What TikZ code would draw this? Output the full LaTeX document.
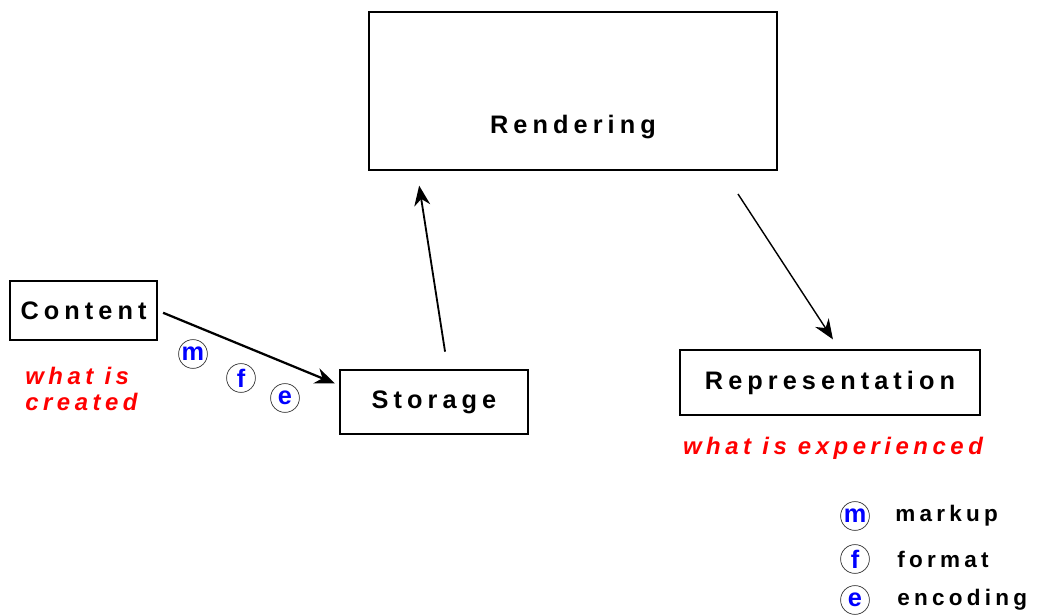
\documentclass[tikz,border=0pt]{standalone}
\usepackage{fontspec}
\setmainfont{Liberation Sans}
\newfontfamily\spacedfont[LetterSpace=20]{Liberation Sans}
\newfontfamily\notefont[LetterSpace=19]{Liberation Sans}
\usetikzlibrary{arrows.meta,positioning}
\definecolor{cink}{HTML}{000000}
\definecolor{cred}{HTML}{FF0000}
\definecolor{cblue}{HTML}{0000FF}
\definecolor{cring}{HTML}{333333}

\begin{document}
\begin{tikzpicture}[
  x=0.025cm, y=-0.025cm,
  box/.style={
    draw=cink,
    fill=white,
    line width=0.8pt,
    inner sep=0pt,
    font=\spacedfont\bfseries\fontsize{18}{21}\selectfont
  },
  note/.style={
    text=cred,
    align=left,
    inner sep=0pt,
    font=\notefont\bfseries\itshape\fontsize{17}{18}\selectfont
  },
  tag/.style={
    circle,
    draw=cring,
    line width=0.5pt,
    minimum size=0.72cm,
    inner sep=0pt,
    text=cblue,
    font=\bfseries\fontsize{18}{18}\selectfont
  },
  key/.style={
    anchor=west,
    inner sep=0pt,
    font=\notefont\bfseries\fontsize{16}{19}\selectfont
  },
  flow/.style={-{Stealth[length=5mm, width=4mm]}, draw=cink, line width=1.3pt}
]
\useasboundingbox (0,0) rectangle (1042,616);

% boxes
\node[box, minimum width=10.2cm, minimum height=3.95cm] (rendering) at (573,91) {};
\node[box, draw=none, fill=none] (renderingtext) at ([yshift=-0.9cm]rendering.center) {Rendering};
\node[box, minimum width=3.675cm, minimum height=1.475cm] (content) at (83.5,310.5) {Content};
\node[box, minimum width=4.7cm, minimum height=1.6cm] (storage) at (434,402) {Storage};
\node[box, minimum width=7.5cm, minimum height=1.625cm] (representation) at (830,382.5) {Representation};

% what is meant
\node[note, anchor=west] (created) at (25,389) {what is\\[1pt]created};
\node[note] (experienced) at (833,448) {what is experienced};

% arrows
\draw[flow, line width=1.6pt, shorten <=0.15cm, shorten >=0.12cm] (content.east) -- (storage.170);
\draw[flow, shorten <=0.45cm, shorten >=0.38cm] (storage.67) -- (rendering.207);
\draw[flow, line width=1pt, shorten <=0.7cm, shorten >=0.3cm] (rendering.332.5) -- (representation.74);

% circled letters on the way to storage
\node[tag] (m) at (193,354) {m};
\node[tag] (f) at (241,378) {f};
\node[tag] (e) at (285,398) {e};

% legend
\node[tag] (keym) at (855,516) {m};
\node[tag] (keyf) at (855,559) {f};
\node[tag] (keye) at (855,600) {e};
\node[key] (markup) at (895,516) {markup};
\node[key] (format) at (897,559) {format};
\node[key] (encoding) at (897,600) {encoding};
\end{tikzpicture}
\end{document}
